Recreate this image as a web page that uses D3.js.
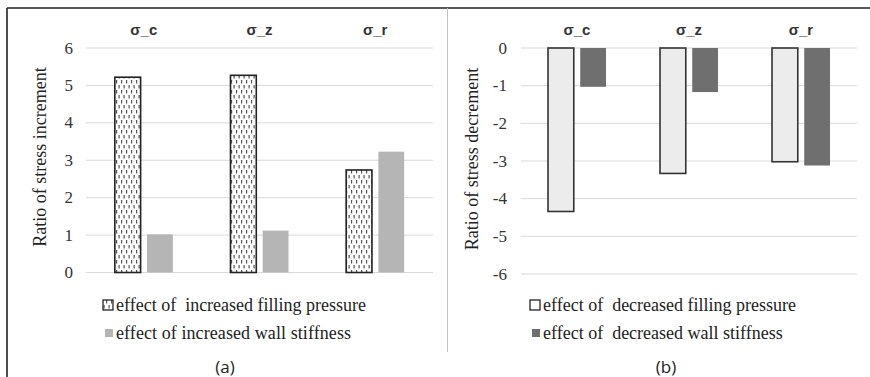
<!DOCTYPE html>
<html>
<head>
<meta charset="utf-8">
<script src="https://cdn.jsdelivr.net/npm/d3@7"></script>
<style>
  html, body { margin: 0; padding: 0; background: #fff; }
  svg { display: block; }
  text { white-space: pre; }
</style>
</head>
<body>
<svg id="chart" width="870" height="377"></svg>
<script>
// ---- data ----
const categories = ["σ_c", "σ_z", "σ_r"];
const increasedFilling = [5.22, 5.27, 2.74];
const increasedWall = [1.02, 1.12, 3.23];
const decreasedFilling = [-4.34, -3.33, -3.02];
const decreasedWall = [-1.03, -1.17, -3.12];
const leftTicks = [0, 1, 2, 3, 4, 5, 6];
const rightTicks = [0, -1, -2, -3, -4, -5, -6];
const leftTitle = "Ratio of stress increment";
const rightTitle = "Ratio of stress decrement";
const leftLegend = ["effect of  increased filling pressure", "effect of increased wall stiffness"];
const rightLegend = ["effect of  decreased filling pressure", "effect of  decreased wall stiffness"];
const panelLabels = ["(a)", "(b)"];

const svg = d3.select("#chart");
const serif = "'Liberation Serif', 'Times New Roman', serif";
const sans = "'Liberation Sans', Arial, sans-serif";

// patterns
const defs = svg.append("defs");
const pat = defs.append("pattern").attr("id", "dots")
  .attr("patternUnits", "userSpaceOnUse").attr("width", 5).attr("height", 10);
pat.append("rect").attr("width", 5).attr("height", 10).attr("fill", "#fff");
pat.append("rect").attr("x", 1).attr("y", 0).attr("width", 1.2).attr("height", 3.5).attr("fill", "#555");
pat.append("rect").attr("x", 3.5).attr("y", 5).attr("width", 1.2).attr("height", 3.5).attr("fill", "#555");

// frame lines
svg.append("line").attr("x1", 7).attr("x2", 870).attr("y1", 8).attr("y2", 8)
  .attr("stroke", "#222").attr("stroke-width", 1.6);
svg.append("line").attr("x1", 7).attr("x2", 7).attr("y1", 8).attr("y2", 377)
  .attr("stroke", "#222").attr("stroke-width", 1.6);
svg.append("line").attr("x1", 447.5).attr("x2", 447.5).attr("y1", 8).attr("y2", 352)
  .attr("stroke", "#c4c4c4").attr("stroke-width", 1);

function fitText(sel, target) {
  sel.each(function () {
    const w = this.getComputedTextLength();
    if (w > 0 && Math.abs(w - target) > 1 && Math.abs(w - target) < 40) {
      d3.select(this).attr("textLength", target).attr("lengthAdjust", "spacing");
    }
  });
}

function panel(cfg) {
  const g = svg.append("g");
  const x0 = d3.scaleBand().domain(categories).range(cfg.xRange).padding(0);
  const y = d3.scaleLinear().domain(cfg.yDomain).range(cfg.yRange);
  const series = ["a", "b"];
  const groupW = cfg.groupW;
  const x1 = d3.scaleBand().domain(series).range([-groupW / 2, groupW / 2]).paddingInner(cfg.innerPad);

  // gridlines
  g.selectAll(".grid").data(cfg.ticks).join("line")
    .attr("x1", cfg.xRange[0]).attr("x2", cfg.xRange[1])
    .attr("y1", d => y(d)).attr("y2", d => y(d))
    .attr("stroke", "#d9d9d9").attr("stroke-width", 1);

  // tick labels
  g.selectAll(".tick").data(cfg.ticks).join("text")
    .attr("x", cfg.tickX).attr("y", d => y(d))
    .attr("text-anchor", "end").attr("dominant-baseline", "central")
    .attr("font-family", serif).attr("font-size", 17).attr("fill", "#333")
    .text(d => d);

  // y title
  g.append("text")
    .attr("transform", `translate(${cfg.titleX},${cfg.titleY}) rotate(-90)`)
    .attr("text-anchor", "middle").attr("dominant-baseline", "central")
    .attr("font-family", serif).attr("font-size", 18).attr("fill", "#222")
    .text(cfg.title);

  // category labels
  g.selectAll(".cat").data(categories).join("text")
    .attr("x", d => x0(d) + x0.bandwidth() / 2).attr("y", 29)
    .attr("text-anchor", "middle").attr("dominant-baseline", "central")
    .attr("font-family", sans).attr("font-size", 15).attr("font-weight", "bold").attr("fill", "#333")
    .text(d => d);

  // bars series A
  g.selectAll(".barA").data(cfg.valsA).join("rect")
    .attr("x", (d, i) => x0(categories[i]) + x0.bandwidth() / 2 + x1("a"))
    .attr("width", x1.bandwidth())
    .attr("y", d => Math.min(y(0), y(d)))
    .attr("height", d => Math.abs(y(d) - y(0)))
    .attr("fill", cfg.fillA).attr("stroke", cfg.strokeA).attr("stroke-width", 1.6);

  // bars series B
  g.selectAll(".barB").data(cfg.valsB).join("rect")
    .attr("x", (d, i) => x0(categories[i]) + x0.bandwidth() / 2 + x1("b"))
    .attr("width", x1.bandwidth())
    .attr("y", d => Math.min(y(0), y(d)))
    .attr("height", d => Math.abs(y(d) - y(0)))
    .attr("fill", cfg.fillB);

  // legend
  const lg = g.append("g");
  lg.append("rect").attr("x", cfg.legX).attr("y", 300).attr("width", 10).attr("height", 10)
    .attr("fill", cfg.legFillA).attr("stroke", "#222").attr("stroke-width", 1.3);
  const t1 = lg.append("text").attr("x", cfg.legX + 13).attr("y", 305)
    .attr("dominant-baseline", "central")
    .attr("font-family", serif).attr("font-size", 18).attr("fill", "#222")
    .text(cfg.legend[0]);
  fitText(t1, cfg.legW[0]);
  lg.append("rect").attr("x", cfg.legX + 2).attr("y", 329).attr("width", 8).attr("height", 8)
    .attr("fill", cfg.fillB);
  const t2 = lg.append("text").attr("x", cfg.legX + 13).attr("y", 333)
    .attr("dominant-baseline", "central")
    .attr("font-family", serif).attr("font-size", 18).attr("fill", "#222")
    .text(cfg.legend[1]);
  fitText(t2, cfg.legW[1]);

  // panel label
  g.append("text").attr("x", cfg.labelX).attr("y", 366)
    .attr("text-anchor", "middle").attr("dominant-baseline", "central")
    .attr("font-family", "'Open Sans', sans-serif").attr("font-size", 17).attr("fill", "#222")
    .text(cfg.label);
}

panel({
  xRange: [86, 433], yDomain: [0, 6], yRange: [272.5, 48], ticks: leftTicks,
  groupW: 58, innerPad: 0.2, tickX: 73, titleX: 40, titleY: 157, title: leftTitle,
  valsA: increasedFilling, valsB: increasedWall,
  fillA: "url(#dots)", strokeA: "#222", fillB: "#b5b5b5",
  legX: 103, legFillA: "url(#dots)", legend: leftLegend, legW: [251, 235],
  labelX: 225, label: panelLabels[0]
});

panel({
  xRange: [521, 857], yDomain: [-6, 0], yRange: [274, 48], ticks: rightTicks,
  groupW: 58, innerPad: 0.2, tickX: 507, titleX: 472, titleY: 159, title: rightTitle,
  valsA: decreasedFilling, valsB: decreasedWall,
  fillA: "#ececec", strokeA: "#333", fillB: "#6f6f6f",
  legX: 530, legFillA: "#fff", legend: rightLegend, legW: [253, 240],
  labelX: 666, label: panelLabels[1]
});
</script>
</body>
</html>
